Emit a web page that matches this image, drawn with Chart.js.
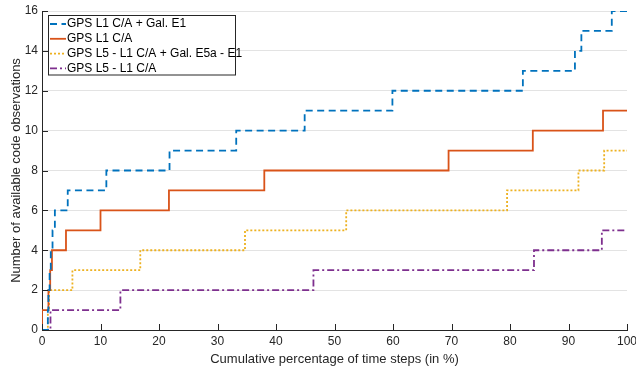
<!DOCTYPE html>
<html>
<head>
<meta charset="utf-8">
<script src="https://cdn.jsdelivr.net/npm/chart.js@4"></script>
<style>
  html, body { margin: 0; padding: 0; background: #fff; }
  #wrap { width: 636px; height: 371px; }
</style>
</head>
<body>
<div id="wrap"><canvas id="myChart" width="636" height="371"></canvas></div>
<script>
// step positions (x, in %) and values (count) for each series
const blueX = [0, 1.0, 1.1, 1.3, 1.5, 1.8, 2.2, 4.4, 11.0, 21.8, 33.2, 44.9, 59.9, 82.2, 91.1, 92.2, 97.4, 100];
const blueY = [0, 1, 2, 3, 4, 5, 6, 7, 8, 9, 10, 11, 12, 13, 14, 15, 16, 16];

const orangeX = [0, 0, 1.1, 1.4, 1.7, 4.1, 10.0, 21.7, 38.0, 69.5, 83.9, 95.9, 100];
const orangeY = [0, 1, 2, 3, 4, 5, 6, 7, 8, 9, 10, 11, 11];

const yellowX = [0, 1.0, 1.2, 5.2, 16.8, 34.7, 52.0, 79.5, 91.7, 96.1, 100];
const yellowY = [0, 1, 2, 3, 4, 5, 6, 7, 8, 9, 9];

const purpleX = [0, 1.45, 13.4, 46.4, 84.1, 95.7, 100];
const purpleY = [0, 1, 2, 3, 4, 5, 5];

const labels = ['GPS L1 C/A + Gal. E1', 'GPS L1 C/A', 'GPS L5 - L1 C/A + Gal. E5a - E1', 'GPS L5 - L1 C/A'];

const FONT = '"Liberation Sans", Arial, Helvetica, sans-serif';
const AXIS = '#262626';

function pts(xs, ys) {
  return xs.map((x, i) => ({ x: x, y: ys[i] }));
}

// inward tick marks like the original
const innerTicks = {
  id: 'innerTicks',
  afterDraw(chart) {
    const c = chart.ctx;
    const xs = chart.scales.x, ys = chart.scales.y;
    const a = chart.chartArea;
    c.save();
    c.strokeStyle = AXIS;
    c.lineWidth = 1;
    c.beginPath();
    xs.ticks.forEach(t => {
      const px = Math.round(xs.getPixelForValue(t.value)) + 0.5;
      c.moveTo(px, a.bottom);
      c.lineTo(px, a.bottom - 6);
    });
    ys.ticks.forEach(t => {
      const py = Math.round(ys.getPixelForValue(t.value)) + 0.5;
      c.moveTo(a.left, py);
      c.lineTo(a.left + 6, py);
    });
    c.stroke();
    c.restore();
  }
};

// boxed legend in the top left corner
const boxLegend = {
  id: 'boxLegend',
  afterDraw(chart) {
    const c = chart.ctx;
    const a = chart.chartArea;
    const x0 = a.left + 6, y0 = 15.5, w = 187, h = 59.5;
    c.save();
    c.fillStyle = '#fff';
    c.fillRect(x0, y0, w, h);
    c.strokeStyle = '#262626';
    c.lineWidth = 1;
    c.strokeRect(x0 + 0.5, y0, w, h);
    c.font = '12px ' + FONT;
    c.textBaseline = 'middle';
    chart.data.datasets.forEach((ds, i) => {
      const yy = 24 + i * 14.8;
      c.strokeStyle = ds.borderColor;
      c.lineWidth = ds.borderWidth;
      c.setLineDash(ds.borderDash || []);
      c.beginPath();
      c.moveTo(x0 + 2, yy);
      c.lineTo(x0 + 18, yy);
      c.stroke();
      c.setLineDash([]);
      c.fillStyle = '#000';
      c.fillText(ds.label, x0 + 19, yy);
    });
    c.restore();
  }
};

const ctx = document.getElementById('myChart');

new Chart(ctx, {
  type: 'line',
  data: {
    datasets: [{
      label: labels[0],
      data: pts(blueX, blueY),
      borderColor: '#0072BD',
      borderDash: [7, 4.5],
      borderWidth: 1.8
    }, {
      label: labels[1],
      data: pts(orangeX, orangeY),
      borderColor: '#D95319',
      borderWidth: 1.8
    }, {
      label: labels[2],
      data: pts(yellowX, yellowY),
      borderColor: '#EDB120',
      borderDash: [2, 2],
      borderWidth: 1.8
    }, {
      label: labels[3],
      data: pts(purpleX, purpleY),
      borderColor: '#7E2F8E',
      borderDash: [7, 3, 2, 3],
      borderWidth: 1.8
    }]
  },
  options: {
    responsive: false,
    animation: false,
    elements: { point: { radius: 0 }, line: { stepped: 'before', tension: 0 } },
    layout: { padding: { top: 11, right: 9, left: 0, bottom: 0 } },
    plugins: {
      legend: { display: false },
      tooltip: { enabled: false }
    },
    scales: {
      x: {
        type: 'linear',
        min: 0,
        max: 100,
        ticks: { stepSize: 10, color: AXIS, font: { family: FONT, size: 12 }, padding: 4, maxRotation: 0 },
        grid: { display: true, drawOnChartArea: false, drawTicks: false },
        border: { display: true, color: AXIS, width: 1 },
        title: { display: true, text: 'Cumulative percentage of time steps (in %)', color: AXIS, font: { family: FONT, size: 13 }, padding: { top: 2, bottom: 4 } },
        afterFit(s) { s.height = 41; s.paddingLeft = 0; s.paddingRight = 0; }
      },
      y: {
        min: 0,
        max: 16,
        ticks: { stepSize: 2, color: AXIS, font: { family: FONT, size: 12 }, padding: 4 },
        grid: { color: '#e3e3e3', drawTicks: false },
        border: { display: true, color: AXIS, width: 1 },
        title: { display: true, text: 'Number of available code observations', color: AXIS, font: { family: FONT, size: 13 }, padding: { top: 9, bottom: 2 } },
        afterFit(s) { s.width = 42; s.paddingTop = 0; s.paddingBottom = 0; }
      }
    }
  },
  plugins: [innerTicks, boxLegend]
});
</script>
</body>
</html>
